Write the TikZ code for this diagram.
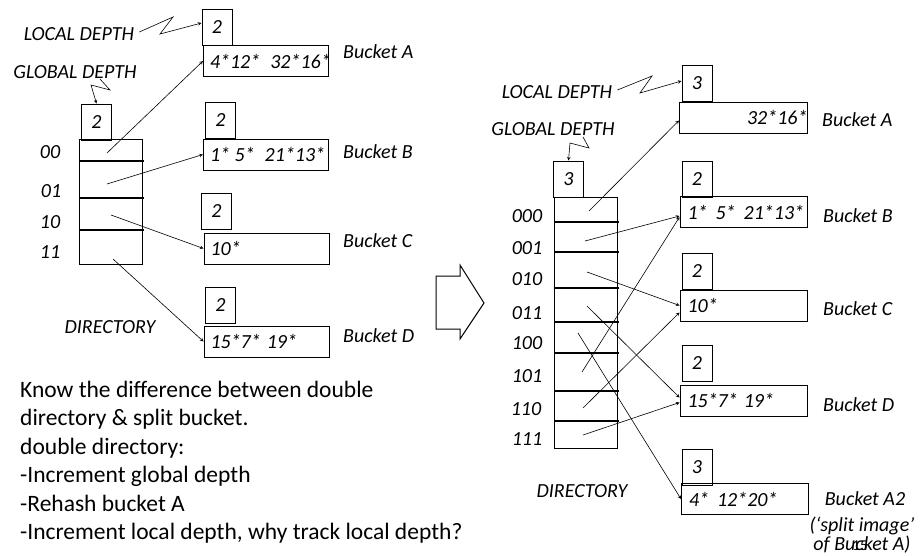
\documentclass[tikz,border=0pt]{standalone}
\usepackage{fontspec}
\setmainfont{Carlito}
\usetikzlibrary{arrows,positioning}
\tikzstyle{arrow} = [->,>=stealth,line width=0.6pt]
\tikzstyle{zigzag} = [->,>=stealth,line width=0.6pt]
\tikzstyle{depthbox} = [rectangle, draw, line width=1pt, minimum width=30pt, minimum height=36pt, inner sep=0pt]
\tikzstyle{bucket} = [rectangle, draw, line width=1pt, minimum width=125pt, minimum height=31pt, inner sep=0pt]
\tikzstyle{directory} = [rectangle, draw, line width=1pt, minimum width=63pt, inner sep=0pt]
\tikzstyle{slot} = [line width=1.6pt]
\tikzstyle{lbl} = [inner sep=0pt]
\newcommand{\bucketkeys}[1]{\makebox[112pt][l]{#1}}

\begin{document}
\begin{tikzpicture}[x=1pt, y=-1pt, font=\fontsize{20}{24}\selectfont\itshape]
\useasboundingbox (0,0) rectangle (922,555);

% ---------- before: global depth 2 ----------
\node[lbl] (ldtxtl) at (79,34) {LOCAL DEPTH};
\node[lbl] (gdtxtl) at (75,72) {GLOBAL DEPTH};
\node[depthbox] (gdl) at (96.5,122) {2};
\node[directory, minimum height=125pt] (dirl) at (110.5,201.5) {};
\draw[slot] (79,161) -- (144,161);
\draw[slot] (79,198) -- (144,198);
\draw[slot] (79,230) -- (144,230);
\node[lbl] (l00) at (50,152) {00};
\node[lbl] (l01) at (51,191) {01};
\node[lbl] (l10) at (50,222) {10};
\node[lbl] (l11) at (50,252) {11};
\node[lbl] (dtxtl) at (110,327) {DIRECTORY};

% buckets
\node[depthbox] (ldAl) at (217,27) {2};
\node[bucket] (Al) at (266,61) {\bucketkeys{4*12*\hspace{10pt}32*16*}};
\node[depthbox] (ldBl) at (220.5,120.5) {2};
\node[bucket] (Bl) at (266,154.5) {\bucketkeys{1* 5*\hspace{10pt}21*13*}};
\node[depthbox] (ldCl) at (216.5,211) {2};
\node[bucket] (Cl) at (266.5,248.5) {\bucketkeys{10*}};
\node[depthbox] (ldDl) at (220.5,305) {2};
\node[bucket] (Dl) at (266.5,341.5) {\bucketkeys{15*7*\hspace{6pt}19*}};
\node[lbl, anchor=west] (nAl) at (343,52) {Bucket A};
\node[lbl, anchor=west] (nBl) at (343,152) {Bucket B};
\node[lbl, anchor=west] (nCl) at (343,241) {Bucket C};
\node[lbl, anchor=west] (nDl) at (343,336) {Bucket D};

% pointers
\coordinate (p00) at (107,153);
\coordinate (p01) at (107,184);
\coordinate (p10) at (111,215);
\coordinate (p11) at (113,259);
\draw[arrow] (p00) -- (Al.west);
\draw[arrow] (p01) -- (Bl.west);
\draw[arrow] (p10) -- (Cl.west);
\draw[arrow] (p11) -- (Dl.west);
\draw[zigzag] (ldtxtl.east) ++(5,-2) -- (173,17) -- (160,34) -- ([yshift=4pt]ldAl.west);
\draw[zigzag] (100,79) -- (110,90) -- (91,85) -- (gdl.north);

% ---------- big arrow ----------
\draw[line width=1pt] (436,276) -- (460,276) -- (460,265) -- (484,303) -- (460,339) -- (460,329) -- (436,329) -- cycle;

% ---------- after: global depth 3 ----------
\node[lbl] (ldtxtr) at (557,92) {LOCAL DEPTH};
\node[lbl] (gdtxtr) at (553,129) {GLOBAL DEPTH};
\node[depthbox] (gdr) at (568.5,179) {3};
\node[directory, minimum height=251pt] (dirr) at (585.5,322.5) {};
\foreach \y in {222,252,288,322,353,391,421}
  \draw[slot] (554,\y) -- (619,\y);
\node[lbl] (r000) at (527,216) {000};
\node[lbl] (r001) at (527,248) {001};
\node[lbl] (r010) at (527,279) {010};
\node[lbl] (r011) at (527,313) {011};
\node[lbl] (r100) at (527,343) {100};
\node[lbl] (r101) at (527,376) {101};
\node[lbl] (r110) at (526,409) {110};
\node[lbl] (r111) at (527,439) {111};
\node[lbl] (dtxtr) at (582,491) {DIRECTORY};

% buckets
\node[depthbox] (ldAr) at (697,83) {3};
\node[bucket, minimum width=127pt] (Ar) at (743.5,117.5) {\makebox[128pt][r]{32*16*}};
\node[depthbox] (ldBr) at (697,179) {2};
\node[bucket, minimum width=127pt] (Br) at (743.5,212) {\bucketkeys{1*\hspace{8pt}5*\hspace{8pt}21*13*}};
\node[depthbox] (ldCr) at (697,271) {2};
\node[bucket, minimum width=127pt] (Cr) at (743.5,305.5) {\bucketkeys{10*}};
\node[depthbox] (ldDr) at (697,363) {2};
\node[bucket, minimum width=127pt] (Dr) at (743.5,400.5) {\bucketkeys{15*7*\hspace{6pt}19*}};
\node[depthbox] (ldA2r) at (697,467) {3};
\node[bucket, minimum width=127pt] (A2r) at (745,499) {\bucketkeys{4*\hspace{8pt}12*20*}};
\node[lbl, anchor=west] (nAr) at (822,120) {Bucket A};
\node[lbl, anchor=west] (nBr) at (823,216) {Bucket B};
\node[lbl, anchor=west] (nCr) at (823,309) {Bucket C};
\node[lbl, anchor=west] (nDr) at (823,405) {Bucket D};
\node[lbl] (nA2r) at (865,499) {Bucket A2};
\node[lbl, align=center, font=\fontsize{20}{19}\selectfont\itshape] (splitr) at (862,535) {(`split image'\\of Bucket A)};

% pointers
\coordinate (p000) at (589,211);
\coordinate (p001) at (585,241);
\coordinate (p010) at (587,272);
\coordinate (p011) at (587,306);
\coordinate (p100) at (578,333);
\coordinate (p101) at (582,372);
\coordinate (p110) at (583,408);
\coordinate (p111) at (583,435);
\draw[arrow] (p000) -- ([yshift=-3pt]Ar.west);
\draw[arrow] (p001) -- ([yshift=-4pt]Br.west);
\draw[arrow] (p010) -- (Cr.west);
\draw[arrow] (p011) -- ([yshift=3pt]Dr.west);
\draw[arrow] (p100) -- (A2r.west);
\draw[arrow] (p101) -- ([yshift=-5pt]Br.west);
\draw[arrow] (p110) -- ([yshift=-7pt]Cr.west);
\draw[arrow] (p111) -- ([yshift=-2pt]Dr.west);
\draw[zigzag] (ldtxtr.east) ++(5,-2) -- (652,76) -- (640,93) -- ([yshift=2pt]ldAr.west);
\draw[zigzag] (583,137) -- (589,148) -- (570,143) -- (gdr.north);

% ---------- notes ----------
\node[lbl, anchor=north west, align=left, font=\fontsize{23.5}{28.4}\selectfont\upshape] (notes) at (20,381) {Know the difference between double\\directory \& split bucket.\\double directory:\\-Increment global depth\\-Rehash bucket A\\-Increment local depth, why track local depth?};
\node[lbl, font=\fontsize{15}{16}\selectfont\upshape] (page) at (860,546) {15};
\end{tikzpicture}
\end{document}
